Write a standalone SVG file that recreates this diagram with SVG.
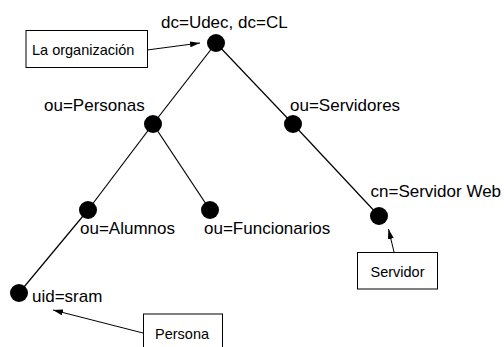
<svg xmlns="http://www.w3.org/2000/svg" width="504" height="347" viewBox="0 0 504 347">
  <defs>
    <marker id="arrow" viewBox="0 0 10 6" refX="10" refY="3" markerWidth="10" markerHeight="6" markerUnits="userSpaceOnUse" orient="auto">
      <path d="M0,0 L10,3 L0,6 Z" fill="#000"/>
    </marker>
    <style>
      .edge { stroke: #000; stroke-width: 1.2; fill: none; }
      .pointer { stroke: #000; stroke-width: 1; fill: none; marker-end: url(#arrow); }
      .dot { fill: #000; }
      .label { font-family: "Liberation Sans", Arial, sans-serif; font-size: 17px; fill: #000; }
      .box { fill: #fff; stroke: #000; stroke-width: 1; }
      .note { font-family: "Liberation Sans", Arial, sans-serif; font-size: 14.5px; fill: #000; }
    </style>
  </defs>
  <rect width="504" height="347" fill="#fff"/>

  <!-- tree edges and annotation pointers -->
  <g id="connectors">
    <line class="edge" x1="216" y1="43" x2="153" y2="124"/>
    <line class="edge" x1="216" y1="43" x2="293" y2="124"/>
    <line class="edge" x1="153" y1="124" x2="88" y2="210"/>
    <line class="edge" x1="153" y1="124" x2="210" y2="210"/>
    <line class="edge" x1="293" y1="124" x2="379" y2="216"/>
    <line class="edge" x1="88" y1="210" x2="19" y2="293"/>
    <line class="pointer" x1="147" y1="50" x2="200" y2="43"/>
    <line class="pointer" x1="394" y1="252" x2="388.5" y2="229"/>
    <line class="pointer" x1="143" y1="333" x2="53" y2="310"/>
  </g>

  <g id="root">
    <circle class="dot" cx="216" cy="43" r="9"/>
    <text class="label" x="161" y="27.5">dc=Udec, dc=CL</text>
  </g>
  <g id="personas">
    <circle class="dot" cx="153" cy="124" r="9"/>
    <text class="label" x="44" y="111">ou=Personas</text>
  </g>
  <g id="servidores">
    <circle class="dot" cx="293" cy="124" r="9"/>
    <text class="label" x="290" y="110.5">ou=Servidores</text>
  </g>
  <g id="alumnos">
    <circle class="dot" cx="88" cy="210" r="9"/>
    <text class="label" x="80" y="233.5">ou=Alumnos</text>
  </g>
  <g id="funcionarios">
    <circle class="dot" cx="210" cy="210" r="9"/>
    <text class="label" x="204" y="233.5">ou=Funcionarios</text>
  </g>
  <g id="servidor-web">
    <circle class="dot" cx="379" cy="216" r="9"/>
    <text class="label" x="370.5" y="196.5">cn=Servidor Web</text>
  </g>
  <g id="sram">
    <circle class="dot" cx="19" cy="293" r="9"/>
    <text class="label" x="32" y="301.5">uid=sram</text>
  </g>

  <g id="note-organizacion">
    <rect class="box" x="26" y="30.5" width="121.5" height="37"/>
    <text class="note" x="32" y="55">La organización</text>
  </g>
  <g id="note-servidor">
    <rect class="box" x="357.5" y="252.5" width="80" height="36.5"/>
    <text class="note" x="370.5" y="276.5">Servidor</text>
  </g>
  <g id="note-persona">
    <rect class="box" x="143.5" y="314" width="79" height="40"/>
    <text class="note" x="155" y="338.5">Persona</text>
  </g>
</svg>
